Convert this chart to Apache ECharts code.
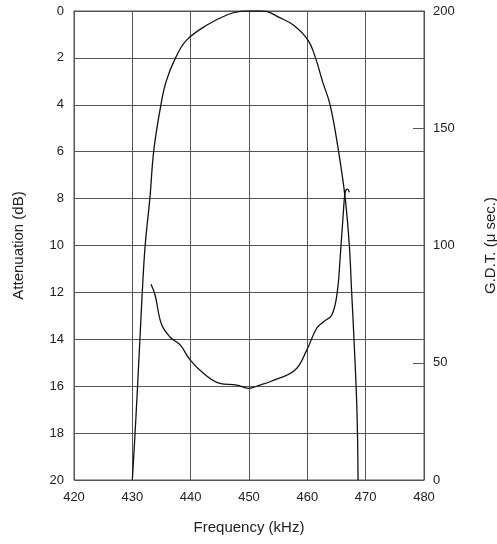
<!DOCTYPE html>
<html>
<head>
<meta charset="utf-8">
<script src="https://cdn.jsdelivr.net/npm/echarts@6/dist/echarts.min.js"></script>
<style>
  html, body { margin: 0; padding: 0; background: #fff; overflow: hidden; }
  #chart { width: 497px; height: 544px; }
</style>
</head>
<body>
<div id="chart"></div>
<script>
// Passband attenuation of the filter (dB) versus frequency (kHz)
var attnFreq = [430.0, 430.6, 431.3, 431.7, 432.2, 433.0, 433.7, 434.9, 435.8, 437.4, 439.3, 442.8, 446.2, 448.5, 450.0, 452.0, 453.0, 455.0, 457.6, 460.1, 461.4, 462.6, 463.9, 465.3, 466.5, 467.2, 467.6, 468.0, 468.5, 468.7];
var attnDb   = [20, 17.4, 14, 12, 10, 8, 5.9, 4, 3, 2, 1.24, 0.6, 0.17, 0.02, 0, 0, 0.02, 0.25, 0.6, 1.24, 2, 3, 4, 5.9, 8, 10, 12, 14, 17, 20];

// Group delay time (microseconds) versus frequency (kHz)
var gdtFreq  = [433.2, 433.9, 435.0, 436.5, 438.2, 439.9, 442.2, 445.0, 447.9, 449.9, 451.9, 453.6, 457.9, 459.9, 461.6, 462.8, 464.2, 465.1, 465.6, 466.2, 466.5, 466.9, 467.2];
var gdtUs    = [83.5, 78.9, 66.4, 60.9, 57.6, 51.2, 45.5, 41.2, 40.5, 39.1, 40.5, 41.9, 46.9, 55.4, 64.7, 67.5, 70.4, 79.6, 93.8, 115.1, 122.9, 124, 122.7];

// Axis tick values
var freqTicks = [420, 430, 440, 450, 460, 470, 480];
var attnTicks = [0, 2, 4, 6, 8, 10, 12, 14, 16, 18, 20];
var gdtTicks  = [0, 50, 100, 150, 200];

function pairs(xs, ys) {
  return xs.map(function (x, i) { return [x, ys[i]]; });
}

var FONT = '"Liberation Sans", Arial, Helvetica, sans-serif';
var TEXT = '#222';
var GRID = '#555';

var chart = echarts.init(document.getElementById('chart'), null, { renderer: 'canvas', width: 497, height: 544 });

chart.setOption({
  animation: false,
  textStyle: { fontFamily: FONT },
  grid: {
    left: 74, right: 73, top: 11, bottom: 64,
    outerBoundsMode: 'none', containLabel: false,
    show: true, borderColor: GRID, borderWidth: 1, backgroundColor: 'transparent'
  },
  xAxis: {
    type: 'value',
    min: freqTicks[0], max: freqTicks[freqTicks.length - 1],
    interval: freqTicks[1] - freqTicks[0],
    name: 'Frequency (kHz)', nameLocation: 'middle', nameGap: 40,
    nameTextStyle: { fontSize: 15, color: TEXT, fontFamily: FONT },
    axisLine: { show: true, lineStyle: { color: GRID, width: 1 } },
    axisTick: { show: false },
    axisLabel: { fontSize: 13, color: TEXT, margin: 11, fontFamily: FONT },
    splitLine: { show: true, lineStyle: { color: GRID, width: 1 } }
  },
  yAxis: [
    {
      type: 'value', inverse: true,
      min: attnTicks[0], max: attnTicks[attnTicks.length - 1],
      interval: attnTicks[1] - attnTicks[0],
      name: 'Attenuation (dB)', nameLocation: 'middle', nameGap: 48, nameRotate: 90,
      nameTextStyle: { fontSize: 15, color: TEXT, fontFamily: FONT },
      axisLine: { show: true, lineStyle: { color: GRID, width: 1 } },
      axisTick: { show: false },
      axisLabel: { fontSize: 13, color: TEXT, margin: 10, fontFamily: FONT },
      splitLine: { show: true, lineStyle: { color: GRID, width: 1 } }
    },
    {
      type: 'value', position: 'right',
      min: gdtTicks[0], max: gdtTicks[gdtTicks.length - 1],
      interval: gdtTicks[1] - gdtTicks[0],
      name: 'G.D.T. (\u03bc sec.)', nameLocation: 'middle', nameGap: 59, nameRotate: 90,
      nameTextStyle: { fontSize: 15, color: TEXT, fontFamily: FONT },
      axisLine: { show: true, lineStyle: { color: GRID, width: 1 } },
      axisTick: { show: true, inside: true, length: 11, lineStyle: { color: GRID, width: 1 } },
      axisLabel: { fontSize: 13, color: TEXT, margin: 9, fontFamily: FONT },
      splitLine: { show: false }
    }
  ],
  series: [
    {
      name: 'Attenuation', type: 'line', yAxisIndex: 0,
      data: pairs(attnFreq, attnDb),
      smooth: 0.4,
      showSymbol: false, symbol: 'none',
      lineStyle: { color: '#111', width: 1.3 },
      z: 5
    },
    {
      name: 'G.D.T.', type: 'line', yAxisIndex: 1,
      data: pairs(gdtFreq, gdtUs),
      smooth: 0.4,
      showSymbol: false, symbol: 'none',
      lineStyle: { color: '#111', width: 1.3 },
      z: 5
    }
  ]
});
</script>
</body>
</html>
